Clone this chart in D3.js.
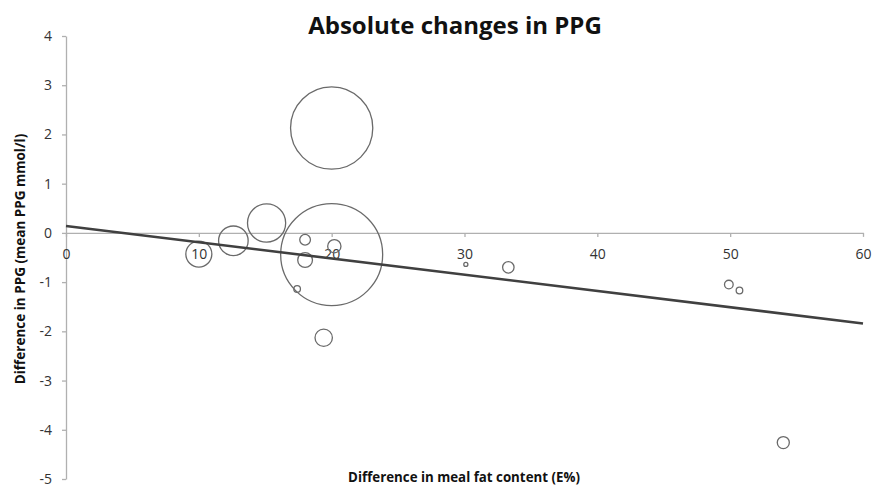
<!DOCTYPE html>
<html>
<head>
<meta charset="utf-8">
<script src="https://cdn.jsdelivr.net/npm/d3@7"></script>
<style>
  body { margin: 0; background: #fff; }
  text { font-family: "Open Sans", "Noto Sans", sans-serif; }
</style>
</head>
<body>
<div id="chart-container"></div>
<script>
// Bubble chart: absolute changes in PPG vs meal fat content difference
const fatDiff = [20.0, 20.0, 10.0, 12.6, 15.1, 18.0, 18.0, 20.2, 17.4, 19.4, 30.1, 33.3, 49.9, 50.7, 54.0];
const ppgDiff = [2.13, -0.44, -0.43, -0.16, 0.20, -0.14, -0.55, -0.27, -1.14, -2.13, -0.64, -0.70, -1.05, -1.17, -4.26];
const weight = [65, 100, 6.5, 8.4, 14, 1.1, 2.1, 1.7, 0.42, 2.9, 0.16, 1.26, 0.72, 0.42, 1.4];
const trendX = [0, 60];
const trendY = [0.14, -1.84];
const xTicks = [0, 10, 20, 30, 40, 50, 60];
const yTicks = [-5, -4, -3, -2, -1, 0, 1, 2, 3, 4];

const data = fatDiff.map((d, i) => ({ x: d, y: ppgDiff[i], w: weight[i] }));

const width = 884, height = 488;
const margin = { top: 36, right: 21, bottom: 9, left: 66 };

const svg = d3.select("#chart-container")
    .append("svg")
    .attr("width", width)
    .attr("height", height);

const x = d3.scaleLinear().domain([0, 60]).range([margin.left, width - margin.right]);
const y = d3.scaleLinear().domain([-5, 4]).range([height - margin.bottom, margin.top]);
const r = d3.scaleSqrt().domain([0, 100]).range([0, 51]);

// y axis
const yAxis = svg.append("g")
    .attr("transform", `translate(${x(0)},0)`)
    .call(d3.axisLeft(y).tickValues(yTicks).tickFormat(d => String(d)).tickSize(4).tickSizeOuter(0).tickPadding(10));
yAxis.select(".domain").attr("stroke", "#b0b0b0").attr("stroke-width", 1.3);
yAxis.selectAll(".tick line").attr("stroke", "#b0b0b0").attr("stroke-width", 1.3);
yAxis.selectAll(".tick text").attr("fill", "#333").style("font-size", "14px");

// x axis, crossing at y = 0
const xAxis = svg.append("g")
    .attr("transform", `translate(0,${y(0)})`)
    .call(d3.axisBottom(x).tickValues(xTicks).tickFormat(d => String(d)).tickSize(4).tickSizeOuter(0).tickPadding(12));
xAxis.select(".domain").attr("stroke", "#b0b0b0").attr("stroke-width", 1.3);
xAxis.selectAll(".tick line").attr("stroke", "#b0b0b0").attr("stroke-width", 1.3);
xAxis.selectAll(".tick text").attr("fill", "#333").style("font-size", "14px");

// bubbles
svg.selectAll("circle.bubble")
    .data(data)
    .enter()
    .append("circle")
    .attr("class", "bubble")
    .attr("cx", d => x(d.x))
    .attr("cy", d => y(d.y))
    .attr("r", d => r(d.w))
    .attr("fill", "none")
    .attr("stroke", "#6a6a6a")
    .attr("stroke-width", 1.3);

// linear trend line
svg.append("line")
    .attr("x1", x(trendX[0]))
    .attr("y1", y(trendY[0]))
    .attr("x2", x(trendX[1]))
    .attr("y2", y(trendY[1]))
    .attr("stroke", "#404040")
    .attr("stroke-width", 2.6);

// titles
svg.append("text")
    .attr("x", 455)
    .attr("y", 34)
    .attr("text-anchor", "middle")
    .style("font-size", "24px")
    .style("font-weight", "bold")
    .attr("fill", "#111")
    .text("Absolute changes in PPG");

svg.append("text")
    .attr("x", 464)
    .attr("y", 482)
    .attr("text-anchor", "middle")
    .style("font-size", "13.3px")
    .style("font-weight", "bold")
    .attr("fill", "#111")
    .text("Difference in meal fat content (E%)");

svg.append("text")
    .attr("transform", "translate(25,259) rotate(-90)")
    .attr("text-anchor", "middle")
    .style("font-size", "13.5px")
    .style("font-weight", "bold")
    .attr("fill", "#111")
    .text("Difference in PPG (mean PPG mmol/l)");
</script>
</body>
</html>
